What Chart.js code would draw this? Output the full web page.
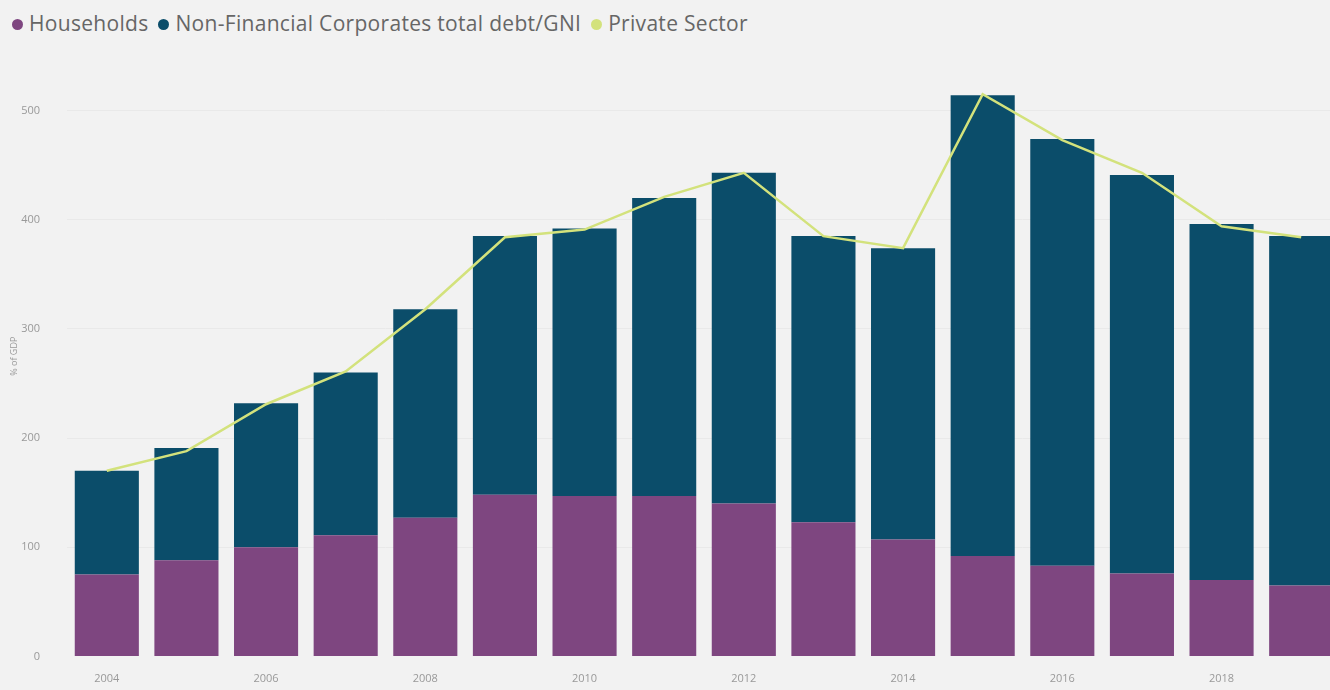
<!DOCTYPE html>
<html>
<head>
<meta charset="utf-8">
<script src="https://cdn.jsdelivr.net/npm/chart.js@4.4.0/dist/chart.umd.min.js"></script>
<style>
  html, body { margin: 0; padding: 0; background: #f2f2f2; overflow: hidden; }
  #wrap { position: absolute; left: 0; top: 0; width: 1345px; height: 690px; }
  #legend { position: absolute; left: 12px; top: 9px; font-family: "Open Sans", sans-serif; font-size: 21px; letter-spacing: 0.3px; color: #666; white-space: nowrap; }
  #legend span.item { margin-right: 10px; }
  #legend span.dot { display: inline-block; width: 11px; height: 11px; border-radius: 50%; margin-right: 6px; vertical-align: 1px; }
</style>
</head>
<body>
<div id="legend"></div>
<div id="wrap"><canvas id="chartDeuda"></canvas></div>
<script>
'use strict'

// datos
let years = ['2004','2005','2006','2007','2008','2009','2010','2011','2012','2013','2014','2015','2016','2017','2018','2019'];
let households = [75, 88, 100, 111, 127, 148, 147, 147, 140, 123, 107, 92, 83, 76, 70, 65];
let nonFinancial = [95, 103, 132, 149, 191, 237, 245, 273, 303, 262, 267, 422, 391, 365, 326, 320];
let privateSector = [170, 188, 231, 261, 318, 384, 391, 421, 443, 385, 374, 515, 473, 443, 394, 384];
let yTicks = [0, 100, 200, 300, 400, 500];

// colores
let cHouse = '#7e4680';
let cNfc = '#0b4d6a';
let cPriv = '#d3e27c';

let series = [
    {label: 'Households', color: cHouse},
    {label: 'Non-Financial Corporates total debt/GNI', color: cNfc},
    {label: 'Private Sector', color: cPriv}
];

// leyenda
let leg = document.getElementById('legend');
series.forEach((s) => {
    let it = document.createElement('span');
    it.className = 'item';
    let d = document.createElement('span');
    d.className = 'dot';
    d.style.background = s.color;
    it.appendChild(d);
    it.appendChild(document.createTextNode(s.label));
    leg.appendChild(it);
});

const ctx = document.getElementById('chartDeuda').getContext('2d');
const myChart = new Chart(ctx, {
    data: {
        labels: years,
        datasets: [{
            type: 'line',
            label: 'Private Sector',
            data: privateSector,
            borderColor: cPriv,
            borderWidth: 2.5,
            pointRadius: 0,
            tension: 0,
            stack: 'linea',
            order: 0
        },{
            type: 'bar',
            label: 'Households',
            data: households,
            backgroundColor: cHouse,
            stack: 'deuda',
            categoryPercentage: 1,
            barPercentage: 0.805,
            order: 1
        },{
            type: 'bar',
            label: 'Non-Financial Corporates total debt/GNI',
            data: nonFinancial,
            backgroundColor: cNfc,
            stack: 'deuda',
            categoryPercentage: 1,
            barPercentage: 0.805,
            order: 1
        }]
    },
    options: {
        responsive: true,
        maintainAspectRatio: false,
        animation: false,
        layout: {
            padding: { top: 56, right: 4, left: 0, bottom: 0 }
        },
        plugins: {
            legend: { display: false },
            tooltip: { enabled: false }
        },
        scales: {
            x: {
                stacked: true,
                grid: { display: false },
                border: { display: false },
                ticks: {
                    autoSkip: false,
                    maxRotation: 0,
                    padding: 8,
                    color: '#999',
                    font: { family: 'Open Sans', size: 11 },
                    callback: function(v, i){ return i % 2 === 0 ? years[i] : ''; }
                },
                afterFit: function(s){ s.height = 33; }
            },
            y: {
                stacked: true,
                min: 0,
                max: 550,
                border: { display: false },
                grid: {
                    drawTicks: false,
                    color: function(c){ return c.tick.value === 0 ? 'rgba(0,0,0,0)' : '#e9e9e9'; },
                    lineWidth: 1
                },
                ticks: {
                    stepSize: 100,
                    padding: 27,
                    color: '#999',
                    font: { family: 'Open Sans', size: 11 }
                },
                afterBuildTicks: function(s){
                    s.ticks = yTicks.map((v) => ({value: v}));
                },
                afterFit: function(s){ s.width = 67; },
                title: {
                    display: true,
                    text: '% of GDP',
                    color: '#999',
                    padding: { top: 9, bottom: 0 },
                    font: { family: 'Open Sans', size: 9 }
                }
            }
        }
    }
});
</script>
</body>
</html>
